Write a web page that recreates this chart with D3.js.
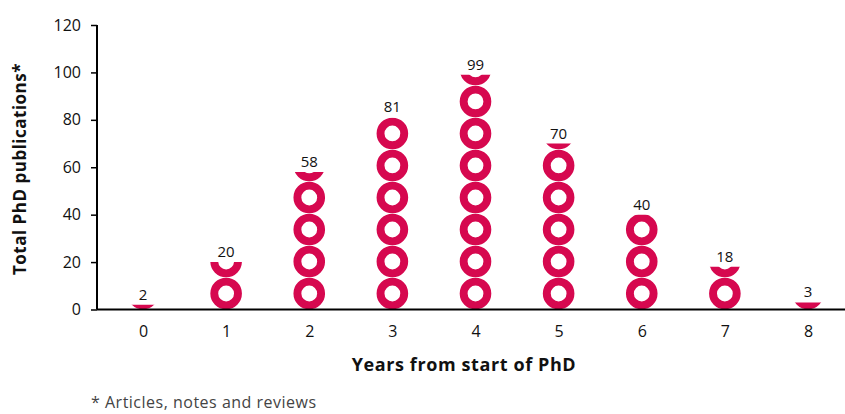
<!DOCTYPE html>
<html>
<head>
<meta charset="utf-8">
<script src="https://cdn.jsdelivr.net/npm/d3@7"></script>
<style>
  body { margin: 0; background: #fff; }
  text { font-family: "Open Sans", "Lato", sans-serif; }
</style>
</head>
<body>
<div id="chart"></div>
<script>
// Data
const years = ["0", "1", "2", "3", "4", "5", "6", "7", "8"];
const publications = [2, 20, 58, 81, 99, 70, 40, 18, 3];
const yTicks = [0, 20, 40, 60, 80, 100, 120];
// each ring stands for this many publications
const ringUnit = 13.5;

const width = 845, height = 414;
const margin = {top: 25, bottom: 104, left: 97, right: 0};
const color = "#d6084f";

const svg = d3.select("#chart")
    .append("svg")
    .attr("width", width)
    .attr("height", height);

const x = d3.scalePoint()
    .domain(years)
    .range([143, 808]);

const y = d3.scaleLinear()
    .domain([0, 120])
    .range([height - margin.bottom - 0.5, margin.top]);

// ring geometry comes from the y scale
const ringPx = y(0) - y(ringUnit);
const outerR = ringPx / 2 - 0.2;
const innerR = outerR * 0.5;

const defs = svg.append("defs");

const bars = svg.append("g");

years.forEach((yr, i) => {
    const v = publications[i];
    const cx = x(yr);

    defs.append("clipPath")
        .attr("id", "clip" + i)
      .append("rect")
        .attr("x", cx - outerR - 2)
        .attr("y", y(v))
        .attr("width", outerR * 2 + 4)
        .attr("height", y(0) - y(v));

    const n = Math.ceil(v / ringUnit);
    const g = bars.append("g").attr("clip-path", `url(#clip${i})`);
    g.selectAll("circle")
        .data(d3.range(n))
        .enter()
        .append("circle")
        .attr("cx", cx)
        .attr("cy", k => y((k + 0.5) * ringUnit))
        .attr("r", (outerR + innerR) / 2)
        .attr("fill", "none")
        .attr("stroke", color)
        .attr("stroke-width", outerR - innerR);

    // value label
    svg.append("text")
        .attr("x", cx)
        .attr("y", y(v) - 5)
        .attr("text-anchor", "middle")
        .style("font-size", "15px")
        .style("fill", "#111")
        .text(v);
});

// y axis
const yAxis = svg.append("g")
    .attr("transform", `translate(${margin.left},0)`)
    .call(d3.axisLeft(y).tickValues(yTicks).tickSize(6).tickPadding(10));
yAxis.select(".domain").attr("stroke", "#000").attr("stroke-width", 2).attr("d", `M0,${y(120)}V${y(0)}`);
yAxis.selectAll(".tick line").attr("stroke", "#000").attr("stroke-width", 1.5);
yAxis.selectAll("text")
    .style("font-size", "16px")
    .style("font-family", "'Open Sans', sans-serif")
    .attr("fill", "#111");

// x axis
const xAxis = svg.append("g")
    .attr("transform", `translate(0,${y(0)})`)
    .call(d3.axisBottom(x).tickSize(0).tickPadding(16));
xAxis.select(".domain").attr("stroke", "#000").attr("stroke-width", 2)
    .attr("d", `M${margin.left},0H${width}`);
xAxis.selectAll("text")
    .style("font-size", "16px")
    .style("font-family", "'Open Sans', sans-serif")
    .attr("fill", "#111");

// axis titles
svg.append("text")
    .attr("x", 464)
    .attr("y", 371)
    .attr("text-anchor", "middle")
    .style("font-size", "18px")
    .style("font-weight", "bold")
    .style("letter-spacing", "0.6px")
    .style("fill", "#111")
    .text("Years from start of PhD");

svg.append("text")
    .attr("transform", "rotate(-90)")
    .attr("x", -169)
    .attr("y", 26)
    .attr("text-anchor", "middle")
    .style("font-size", "17px")
    .style("font-weight", "bold")
    .style("letter-spacing", "0.5px")
    .style("fill", "#111")
    .text("Total PhD publications*");

// footnote
svg.append("text")
    .attr("x", 91)
    .attr("y", 408)
    .style("font-size", "16px")
    .style("letter-spacing", "0.5px")
    .style("fill", "#444")
    .text("* Articles, notes and reviews");
</script>
</body>
</html>
